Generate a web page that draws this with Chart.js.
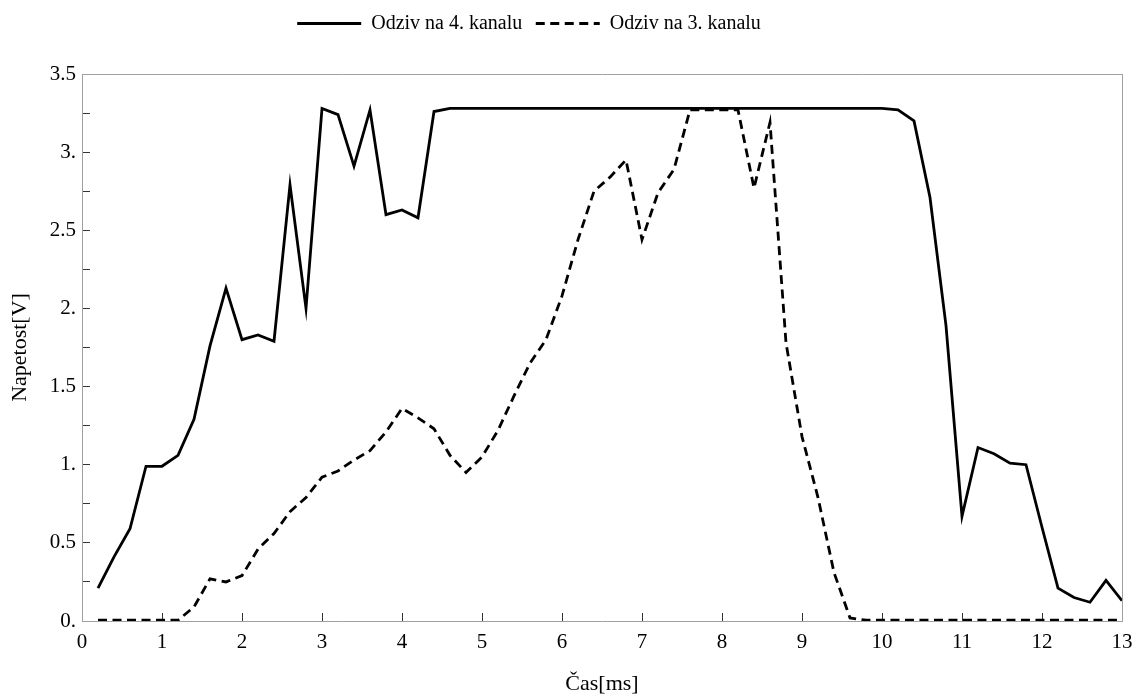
<!DOCTYPE html>
<html>
<head>
<meta charset="utf-8">
<title>Odziv na kanalima</title>
<script src="https://cdn.jsdelivr.net/npm/chart.js@4.4.1/dist/chart.umd.min.js"></script>
<style>
  html, body { margin: 0; padding: 0; background: #fff; }
  #wrap { width: 1142px; height: 698px; position: relative; }
</style>
</head>
<body>
<div id="wrap"><canvas id="chart"></canvas></div>
<script>
// Vrijeme [ms]
var vrijeme = [0.2, 0.4, 0.6, 0.8, 1.0, 1.2, 1.4, 1.6, 1.8, 2.0,
               2.2, 2.4, 2.6, 2.8, 3.0, 3.2, 3.4, 3.6, 3.8, 4.0,
               4.2, 4.4, 4.6, 4.8, 5.0, 5.2, 5.4, 5.6, 5.8, 6.0,
               6.2, 6.4, 6.6, 6.8, 7.0, 7.2, 7.4, 7.6, 7.8, 8.0,
               8.2, 8.4, 8.6, 8.8, 9.0, 9.2, 9.4, 9.6, 9.8, 10.0,
               10.2, 10.4, 10.6, 10.8, 11.0, 11.2, 11.4, 11.6, 11.8, 12.0,
               12.2, 12.4, 12.6, 12.8, 13.0];

// Odziv na 4. kanalu [V]
var kanal4 = [0.21, 0.41, 0.59, 0.99, 0.99, 1.06, 1.29, 1.76, 2.13, 1.80,
              1.83, 1.79, 2.79, 2.00, 3.28, 3.24, 2.91, 3.27, 2.60, 2.63,
              2.58, 3.26, 3.28, 3.28, 3.28, 3.28, 3.28, 3.28, 3.28, 3.28,
              3.28, 3.28, 3.28, 3.28, 3.28, 3.28, 3.28, 3.28, 3.28, 3.28,
              3.28, 3.28, 3.28, 3.28, 3.28, 3.28, 3.28, 3.28, 3.28, 3.28,
              3.27, 3.20, 2.71, 1.89, 0.67, 1.11, 1.07, 1.01, 1.00, 0.60,
              0.21, 0.15, 0.12, 0.26, 0.13];

// Odziv na 3. kanalu [V]
var kanal3 = [0.005, 0.005, 0.005, 0.005, 0.005, 0.005, 0.09, 0.27, 0.25, 0.29,
              0.46, 0.56, 0.70, 0.79, 0.92, 0.96, 1.03, 1.09, 1.21, 1.36,
              1.30, 1.23, 1.06, 0.95, 1.05, 1.22, 1.44, 1.65, 1.80, 2.08,
              2.44, 2.75, 2.84, 2.95, 2.44, 2.74, 2.89, 3.27, 3.27, 3.27,
              3.27, 2.77, 3.19, 1.78, 1.18, 0.79, 0.31, 0.02, 0.005, 0.005,
              0.005, 0.005, 0.005, 0.005, 0.005, 0.005, 0.005, 0.005, 0.005, 0.005,
              0.005, 0.005, 0.005, 0.005, 0.005];

var nazivi = ['Odziv na 4. kanalu', 'Odziv na 3. kanalu'];

function tocke(vrijednosti) {
    return vrijeme.map(function (t, i) { return { x: t, y: vrijednosti[i] }; });
}

var font = "'Liberation Serif', 'Times New Roman', serif";
var sivo = '#a0a0a0';
var crtkano = [9, 5.5];

// pomak legende ulijevo (kao na originalu)
var pomakLegende = {
    id: 'pomakLegende',
    afterLayout: function (chart) {
        if (chart.legend) {
            chart.legend.left -= 42;
            chart.legend.right -= 42;
        }
    }
};

var ctx = document.getElementById('chart').getContext('2d');
var chart = new Chart(ctx, {
    type: 'line',
    data: {
        datasets: [{
            label: nazivi[0],
            data: tocke(kanal4),
            borderColor: '#000',
            backgroundColor: '#000',
            borderWidth: 2.8,
            pointRadius: 0,
            tension: 0,
            fill: false
        }, {
            label: nazivi[1],
            data: tocke(kanal3),
            borderColor: '#000',
            backgroundColor: '#000',
            borderWidth: 2.8,
            borderDash: crtkano,
            pointRadius: 0,
            tension: 0,
            fill: false
        }]
    },
    options: {
        responsive: true,
        maintainAspectRatio: false,
        animation: false,
        layout: { padding: 0 },
        plugins: {
            tooltip: { enabled: false },
            legend: {
                position: 'top',
                labels: {
                    usePointStyle: true,
                    pointStyle: 'line',
                    pointStyleWidth: 64,
                    padding: 13.5,
                    color: '#000',
                    font: { family: font, size: 20 },
                    generateLabels: function (chart) {
                        return chart.data.datasets.map(function (ds, i) {
                            return {
                                text: ds.label,
                                fillStyle: ds.borderColor,
                                strokeStyle: ds.borderColor,
                                fontColor: '#000',
                                lineWidth: ds.borderWidth,
                                lineDash: ds.borderDash || [],
                                lineCap: 'butt',
                                pointStyle: 'line',
                                hidden: false,
                                datasetIndex: i
                            };
                        });
                    }
                }
            }
        },
        scales: {
            x: {
                type: 'linear',
                position: 'bottom',
                min: 0,
                max: 13,
                afterFit: function (s) { s.height = 77; },
                ticks: {
                    stepSize: 1,
                    autoSkip: false,
                    maxRotation: 0,
                    padding: 9,
                    color: '#000',
                    font: { family: font, size: 21, lineHeight: 1.96 },
                    callback: function (v) { return String(v); }
                },
                grid: { drawOnChartArea: false, tickLength: -8, color: '#333' },
                border: { color: sivo },
                title: {
                    display: true,
                    text: 'Čas[ms]',
                    color: '#000',
                    font: { family: font, size: 22 },
                    padding: { top: 0, bottom: 1 }
                }
            },
            y: {
                type: 'linear',
                position: 'left',
                min: 0,
                max: 3.5,
                afterFit: function (s) { s.width = 82; },
                ticks: {
                    stepSize: 0.25,
                    autoSkip: false,
                    padding: 14,
                    color: '#000',
                    font: { family: font, size: 21 },
                    callback: function (v) {
                        if (Math.abs(v * 2 - Math.round(v * 2)) > 1e-6) return '';
                        return Number.isInteger(v) ? v + '.' : String(v);
                    }
                },
                grid: { drawOnChartArea: false, tickLength: -8, color: '#333' },
                border: { color: sivo },
                title: {
                    display: true,
                    text: 'Napetost[V]',
                    color: '#000',
                    font: { family: font, size: 22 },
                    padding: { top: 7, bottom: 0 }
                }
            },
            okvirGore: {
                type: 'linear',
                position: 'top',
                display: true,
                afterFit: function (s) { s.height = 30.5; },
                ticks: { display: false },
                grid: { display: false },
                border: { color: sivo }
            },
            okvirDesno: {
                type: 'linear',
                position: 'right',
                display: true,
                afterFit: function (s) { s.width = 20; },
                ticks: { display: false },
                grid: { display: false },
                border: { color: sivo }
            }
        }
    },
    plugins: [pomakLegende]
});
</script>
</body>
</html>
